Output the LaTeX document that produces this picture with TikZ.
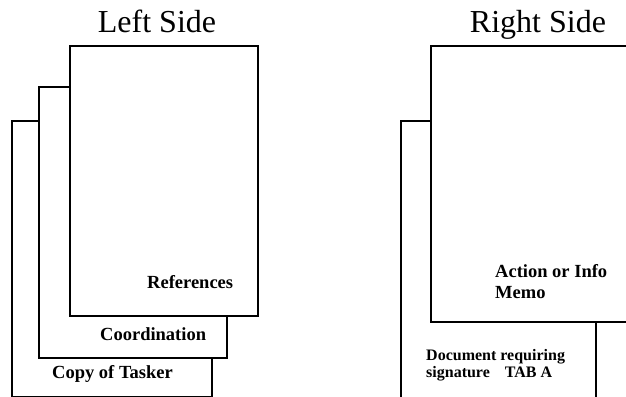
\documentclass[tikz,border=0pt]{standalone}
\usepackage{fontspec}
\setmainfont{Liberation Serif}
\usepackage{xcolor}
\definecolor{sheetLine}{HTML}{000000}
\tikzset{
    SideTitle/.style={font=\fontsize{32}{38}\selectfont, anchor=base},
    SheetLabel/.style={font=\fontsize{18.5}{21}\selectfont\bfseries, anchor=base west},
    SmallLabel/.style={font=\fontsize{16}{17}\selectfont\bfseries, anchor=base west, align=left, inner sep=0pt},
    Sheet/.style={draw=sheetLine, fill=white, line width=1.5pt}
}
\begin{document}
\begin{tikzpicture}[x=1pt, y=-1pt]
    % fester Rahmen wie das Original
    \useasboundingbox (0,0) rectangle (626,396);

    % --- linke Seite ---
    \node[SideTitle] (leftTitle) at (157,33) {Left Side};
    \draw[Sheet] (12,121) rectangle (212,396.5);
    \draw[Sheet] (39,87) rectangle (227,358);
    \draw[Sheet] (70,46) rectangle (258,316);
    \node[SheetLabel, inner sep=0pt] (refLabel) at (147,288) {References};
    \node[SheetLabel, inner sep=0pt] (coordLabel) at (100,340) {Coordination};
    \node[SheetLabel, inner sep=0pt] (taskerLabel) at (52,378) {Copy of Tasker};

    % --- rechte Seite ---
    \node[SideTitle] (rightTitle) at (538,33) {Right Side};
    \draw[Sheet] (401,121) rectangle (596,420);
    \draw[Sheet] (431,46) rectangle (660,322);
    \node[SheetLabel, inner sep=0pt, align=left, font=\fontsize{18.5}{21}\selectfont\bfseries] (memoLabel) at (495,298) {Action or Info\\Memo};
    \node[SmallLabel] (docLabel) at (426,377) {Document requiring\\signature\hspace{15pt}TAB A};
\end{tikzpicture}
\end{document}
